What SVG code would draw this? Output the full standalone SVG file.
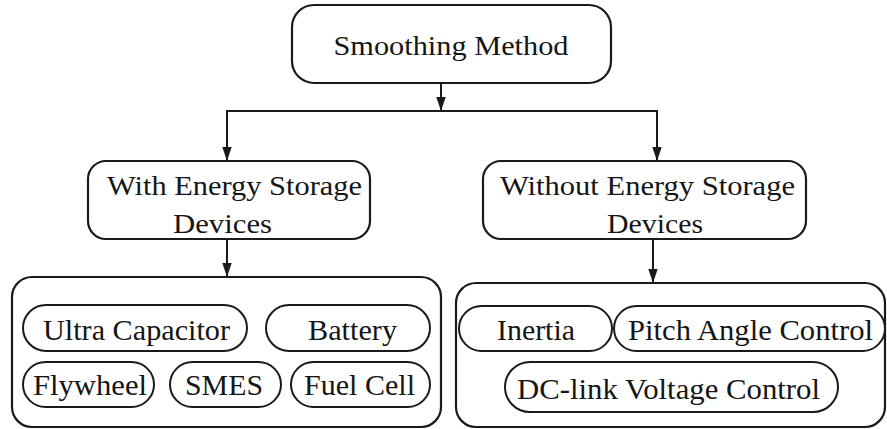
<svg xmlns="http://www.w3.org/2000/svg" width="887" height="429" viewBox="0 0 887 429">
<style>
.box{fill:#fff;stroke:#1a1a1a;stroke-width:2.2}
.pill{fill:#fff;stroke:#1a1a1a;stroke-width:2}
.t{font-family:"Liberation Serif","Times New Roman",serif;fill:#151515;text-anchor:middle}
.h{font-size:28px}
.s{font-size:28.5px}
.ln{fill:none;stroke:#1a1a1a;stroke-width:2}
</style>
<defs>
<marker id="ah" markerWidth="14" markerHeight="12" refX="14" refY="6" orient="auto" markerUnits="userSpaceOnUse">
<path d="M0,1.3 L14,6 L0,10.7 Z" fill="#1a1a1a"/>
</marker>
</defs>
<rect width="887" height="429" fill="#fff"/>
<g id="connectors">
<path class="ln" d="M441,83 V111" marker-end="url(#ah)"/>
<path class="ln" d="M227,160 V111 H657 V160"/>
<path class="ln" d="M227,140 V161" marker-end="url(#ah)"/>
<path class="ln" d="M657,140 V161" marker-end="url(#ah)"/>
<path class="ln" d="M227,239 V277" marker-end="url(#ah)"/>
<path class="ln" d="M653,239 V283" marker-end="url(#ah)"/>
</g>
<g id="smoothing-method">
<rect class="box" x="292" y="5" width="319" height="78" rx="22"/>
<text class="t h" x="451" y="55" textLength="235" lengthAdjust="spacingAndGlyphs">Smoothing Method</text>
</g>
<g id="with-ess">
<rect class="box" x="88" y="161" width="282" height="78" rx="18"/>
<text class="t h" x="234.5" y="195" textLength="255" lengthAdjust="spacingAndGlyphs">With Energy Storage</text>
<text class="t h" x="222.5" y="233" textLength="99" lengthAdjust="spacingAndGlyphs">Devices</text>
</g>
<g id="without-ess">
<rect class="box" x="483" y="161" width="323" height="78" rx="18"/>
<text class="t h" x="647.5" y="195" textLength="295" lengthAdjust="spacingAndGlyphs">Without Energy Storage</text>
<text class="t h" x="655" y="233" textLength="96" lengthAdjust="spacingAndGlyphs">Devices</text>
</g>
<g id="with-ess-list">
<rect class="box" x="12" y="277" width="429" height="150" rx="20"/>
<g id="ultra-capacitor"><rect class="pill" x="23" y="305" width="224" height="46" rx="23"/><text class="t s" x="136.5" y="340" textLength="187" lengthAdjust="spacingAndGlyphs">Ultra Capacitor</text></g>
<g id="battery"><rect class="pill" x="266" y="305" width="164" height="46" rx="23"/><text class="t s" x="352.5" y="340" textLength="89" lengthAdjust="spacingAndGlyphs">Battery</text></g>
<g id="flywheel"><rect class="pill" x="23" y="362" width="131" height="45" rx="22.5"/><text class="t s" x="90" y="395" textLength="114" lengthAdjust="spacingAndGlyphs">Flywheel</text></g>
<g id="smes"><rect class="pill" x="170" y="362" width="111" height="45" rx="22.5"/><text class="t s" x="224" y="395" textLength="78" lengthAdjust="spacingAndGlyphs">SMES</text></g>
<g id="fuel-cell"><rect class="pill" x="291" y="362" width="139" height="45" rx="22.5"/><text class="t s" x="359.5" y="395" textLength="111" lengthAdjust="spacingAndGlyphs">Fuel Cell</text></g>
</g>
<g id="without-ess-list">
<rect class="box" x="456" y="283" width="429" height="144" rx="20"/>
<g id="inertia"><rect class="pill" x="459" y="306" width="153" height="45" rx="22.5"/><text class="t s" x="536" y="340" textLength="78" lengthAdjust="spacingAndGlyphs">Inertia</text></g>
<g id="pitch-angle-control"><rect class="pill" x="614" y="306" width="271" height="45" rx="22.5"/><text class="t s" x="750.5" y="340" textLength="245" lengthAdjust="spacingAndGlyphs">Pitch Angle Control</text></g>
<g id="dc-link-voltage-control"><rect class="pill" x="505" y="362" width="333" height="50" rx="25"/><text class="t s" x="668.5" y="399" textLength="303" lengthAdjust="spacingAndGlyphs">DC-link Voltage Control</text></g>
</g>
</svg>
